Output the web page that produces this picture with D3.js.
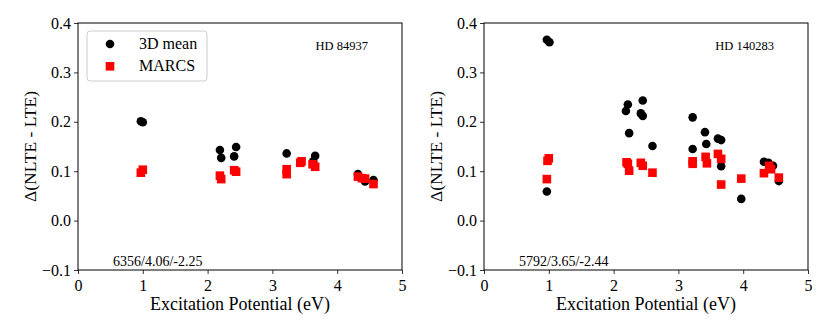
<!DOCTYPE html>
<html>
<head>
<meta charset="utf-8">
<script src="https://cdn.jsdelivr.net/npm/d3@7"></script>
<style>
  body { margin: 0; background: #fff; }
  svg text { font-family: "Liberation Serif", "Times New Roman", Times, "DejaVu Serif", serif !important; }
</style>
</head>
<body>
<svg id="chart" width="830" height="332"></svg>
<script>
// HD 84937 (left panel)
var leftMeanEp  = [0.97, 1.00, 2.19, 2.21, 2.41, 2.44, 3.22, 3.63, 3.66, 4.32, 4.40, 4.43, 4.56];
var leftMeanVal = [0.201, 0.199, 0.143, 0.127, 0.130, 0.149, 0.136, 0.120, 0.131, 0.094, 0.085, 0.079, 0.082];
var leftMarcsEp  = [0.97, 1.00, 2.19, 2.21, 2.41, 2.44, 3.22, 3.22, 3.43, 3.45, 3.62, 3.66, 4.32, 4.38, 4.43, 4.56];
var leftMarcsVal = [0.097, 0.103, 0.091, 0.084, 0.102, 0.099, 0.104, 0.094, 0.117, 0.120, 0.114, 0.109, 0.089, 0.086, 0.085, 0.074];

// HD 140283 (right panel)
var rightMeanEp  = [0.97, 1.01, 0.97, 2.19, 2.22, 2.24, 2.42, 2.45, 2.45, 2.60, 3.22, 3.22, 3.41, 3.43, 3.61, 3.66, 3.66, 3.97, 4.32, 4.39, 4.46, 4.55];
var rightMeanVal = [0.366, 0.361, 0.059, 0.222, 0.235, 0.177, 0.217, 0.243, 0.212, 0.151, 0.209, 0.145, 0.179, 0.155, 0.166, 0.163, 0.110, 0.044, 0.119, 0.117, 0.111, 0.080];
var rightMarcsEp  = [0.98, 1.00, 0.97, 2.20, 2.22, 2.24, 2.42, 2.45, 2.60, 3.22, 3.22, 3.42, 3.44, 3.61, 3.66, 3.66, 3.97, 4.32, 4.40, 4.43, 4.55];
var rightMarcsVal = [0.121, 0.126, 0.084, 0.118, 0.115, 0.101, 0.117, 0.111, 0.097, 0.120, 0.115, 0.129, 0.116, 0.135, 0.125, 0.073, 0.085, 0.096, 0.111, 0.104, 0.087];

var xTicks = [0, 1, 2, 3, 4, 5];
var yTicks = [-0.1, 0.0, 0.1, 0.2, 0.3, 0.4];
var seriesNames = ["3D mean", "MARCS"];

var svg = d3.select("#chart");

function zip(a, b) { return a.map(function(d, i) { return [d, b[i]]; }); }

function panel(left, star, params, meanEp, meanVal, marcsEp, marcsVal, showLegend) {
    var width = 324, height = 247, top = 23;
    var g = svg.append("g").attr("transform", "translate(" + left + "," + top + ")");

    var x = d3.scaleLinear().domain([0, 5]).range([0, width]);
    var y = d3.scaleLinear().domain([-0.1, 0.4]).range([height, 0]);

    var xAxis = g.append("g")
        .attr("transform", "translate(0," + height + ")")
        .call(d3.axisBottom(x).tickValues(xTicks).tickFormat(d3.format("d")).tickSizeOuter(0).tickSize(4));
    var yAxis = g.append("g")
        .call(d3.axisLeft(y).tickValues(yTicks).tickFormat(function(d) { return d3.format(".1f")(d).replace("-", "\u2212"); }).tickSizeOuter(0).tickSize(4));
    [xAxis, yAxis].forEach(function(a) {
        a.attr("font-family", null);
        a.select(".domain").remove();
        a.selectAll("line").attr("stroke", "#000").attr("stroke-width", 0.8);
        a.selectAll("text").style("font-size", "16px").attr("fill", "#000");
    });
    xAxis.selectAll("text").attr("dy", "0.9em");

    g.append("rect").attr("width", width).attr("height", height)
        .attr("fill", "none").attr("stroke", "#000").attr("stroke-width", 1);

    g.append("g").selectAll("circle")
        .data(zip(meanEp, meanVal))
        .enter().append("circle")
        .attr("cx", function(d) { return x(d[0]); })
        .attr("cy", function(d) { return y(d[1]); })
        .attr("r", 4.3)
        .attr("fill", "#000");

    g.append("g").selectAll("rect")
        .data(zip(marcsEp, marcsVal))
        .enter().append("rect")
        .attr("x", function(d) { return x(d[0]) - 4.3; })
        .attr("y", function(d) { return y(d[1]) - 4.3; })
        .attr("width", 8.6).attr("height", 8.6)
        .attr("fill", "#ff0000");

    g.append("text").attr("x", width - 34).attr("y", 27)
        .attr("text-anchor", "end").style("font-size", "12.5px").text(star);
    g.append("text").attr("x", 35).attr("y", 243)
        .style("font-size", "14px").text(params);

    g.append("text")
        .attr("transform", "translate(" + (-42) + "," + (height / 2) + ") rotate(-90)")
        .attr("text-anchor", "middle").style("font-size", "17.5px")
        .text("\u0394(NLTE - LTE)");
    g.append("text").attr("x", width / 2).attr("y", height + 40)
        .attr("text-anchor", "middle").style("font-size", "18px")
        .text("Excitation Potential (eV)");

    if (showLegend) {
        var lg = g.append("g").attr("transform", "translate(9,8)");
        lg.append("rect").attr("width", 120).attr("height", 50).attr("rx", 3)
            .attr("fill", "#fff").attr("stroke", "#ccc").attr("stroke-width", 1);
        lg.append("circle").attr("cx", 23).attr("cy", 13).attr("r", 4.3).attr("fill", "#000");
        lg.append("rect").attr("x", 18.7).attr("y", 31).attr("width", 8.6).attr("height", 8.6).attr("fill", "#ff0000");
        lg.selectAll("text.lab").data(seriesNames).enter().append("text")
            .attr("class", "lab")
            .attr("x", 52).attr("y", function(d, i) { return 18 + i * 22; })
            .style("font-size", "16px").text(function(d) { return d; });
    }
}

panel(78, "HD 84937", "6356/4.06/-2.25", leftMeanEp, leftMeanVal, leftMarcsEp, leftMarcsVal, true);
panel(484, "HD 140283", "5792/3.65/-2.44", rightMeanEp, rightMeanVal, rightMarcsEp, rightMarcsVal, false);
</script>
</body>
</html>
